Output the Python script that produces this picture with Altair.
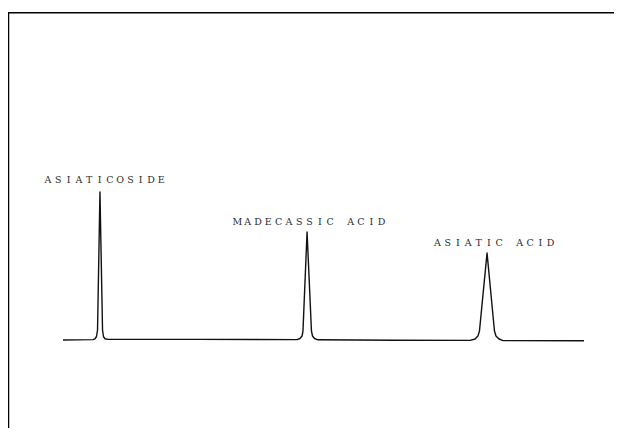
import altair as alt
import pandas as pd

# Chromatogram trace (retention time in min, detector signal in arbitrary units)
time = [3.63, 5.61, 5.74, 5.84, 5.91, 6.07, 6.24, 6.30, 6.40, 6.60,
        12.5, 19.08, 19.27, 19.41, 19.47, 19.74, 20.03, 20.10, 20.23, 20.46,
        25.5, 30.50, 30.83, 31.02, 31.12, 31.62, 32.11, 32.21, 32.41, 32.68, 38.02]
signal = [0.0, 0.4, 1.2, 3.5, 10.0, 148.0, 10.0, 3.5, 1.2, 0.6,
          0.6, 0.4, 1.5, 4.0, 9.0, 108.0, 9.0, 4.0, 1.5, 0.2,
          -0.2, -0.4, 1.0, 4.0, 9.0, 87.0, 9.0, 4.0, 1.0, -0.6, -0.8]

label_names = ["ASIATICOSIDE", "MADECASSIC ACID", "ASIATIC ACID"]
label_time = [6.38, 19.90, 32.08]
label_signal = [160.0, 118.0, 97.0]

trace = pd.DataFrame({"time": time, "signal": signal})

rows = []
for name, t, s in zip(label_names, label_time, label_signal):
    for i, ch in enumerate(name):
        rows.append({"label": name, "ch": ch, "i": i, "n": len(name), "t": t, "s": s})
chars = pd.DataFrame(rows)

W, H = 606, 416
xs = alt.Scale(domain=[0, 40], nice=False, zero=False)
ys = alt.Scale(domain=[-88, 328], nice=False, zero=False)

line = alt.Chart(trace).mark_line(
    color="#111111", strokeWidth=1.4, interpolate="linear", strokeJoin="round"
).encode(
    x=alt.X("time:Q", scale=xs, axis=None),
    y=alt.Y("signal:Q", scale=ys, axis=None),
)

text = alt.Chart(chars).transform_calculate(
    tx="datum.t + (datum.i - (datum.n - 1) / 2) * 0.68"
).mark_text(
    font="DejaVu Serif", fontSize=9.5, color="#2a2a2a",
    align="center", baseline="middle"
).encode(
    x=alt.X("tx:Q", scale=xs, axis=None),
    y=alt.Y("s:Q", scale=ys, axis=None),
    text="ch:N",
)

frame = pd.DataFrame({"k": [0]})
top_rule = alt.Chart(frame).mark_rule(color="#000000", strokeWidth=1.5).encode(
    x=alt.value(0), x2=alt.value(W), y=alt.value(0.7)
)
left_rule = alt.Chart(frame).mark_rule(color="#000000", strokeWidth=1.5).encode(
    x=alt.value(0.5), y=alt.value(0), y2=alt.value(H)
)

chart = alt.layer(top_rule, left_rule, line, text).properties(
    width=W, height=H,
    padding={"left": 0, "top": 4, "right": 0, "bottom": 0},
    autosize="none",
).configure_view(stroke=None)

chart.save("out.html", embed_options={"renderer": "svg", "actions": False})
